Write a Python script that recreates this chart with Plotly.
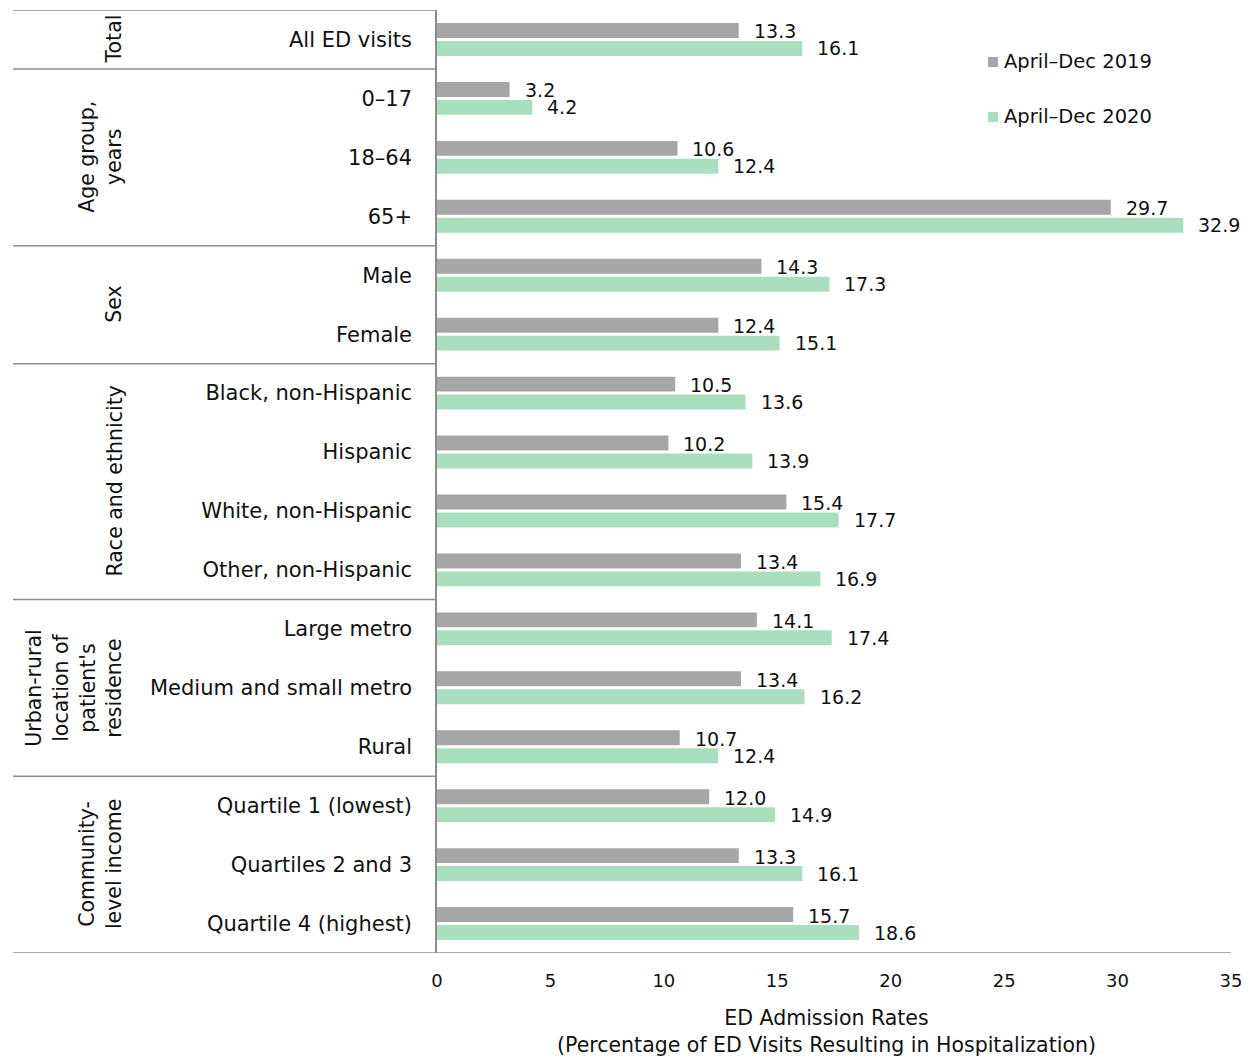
import plotly.graph_objects as go

# Categories (top to bottom) and admission rates per period
categories = [
    "All ED visits", "0–17", "18–64", "65+", "Male", "Female",
    "Black, non-Hispanic", "Hispanic", "White, non-Hispanic", "Other, non-Hispanic",
    "Large metro", "Medium and small metro", "Rural",
    "Quartile 1 (lowest)", "Quartiles 2 and 3", "Quartile 4 (highest)",
]
rates_2019 = [13.3, 3.2, 10.6, 29.7, 14.3, 12.4, 10.5, 10.2, 15.4, 13.4, 14.1, 13.4, 10.7, 12.0, 13.3, 15.7]
rates_2020 = [16.1, 4.2, 12.4, 32.9, 17.3, 15.1, 13.6, 13.9, 17.7, 16.9, 17.4, 16.2, 12.4, 14.9, 16.1, 18.6]
series_names = ["April–Dec 2019", "April–Dec 2020"]

# Grouping of the categories: (label, first index, last index)
groups = [
    ("Total", 0, 0),
    ("Age group,<br>years", 1, 3),
    ("Sex", 4, 5),
    ("Race and ethnicity", 6, 9),
    ("Urban-rural<br>location of<br>patient's<br>residence", 10, 12),
    ("Community-<br>level income", 13, 15),
]
x_ticks = [0, 5, 10, 15, 20, 25, 30, 35]
axis_title = "ED Admission Rates<br>(Percentage of ED Visits Resulting in Hospitalization)"

W, H = 1254, 1059
ML, MR, MT, MB = 437, 23, 10, 106
PW = W - ML - MR
FONT = "DejaVu Sans"
TXT = "#111111"
GRAY = "#A6A6A6"
GREEN = "#A9DFBF"
LINE = "#8C8C8C"


def px_to_paper_x(px):
    return (px - ML) / PW


idx = list(range(len(categories)))

fig = go.Figure()
fig.add_trace(go.Bar(y=idx, x=rates_2019, orientation="h", name=series_names[0],
                     marker=dict(color=GRAY, line=dict(width=0)), showlegend=False))
fig.add_trace(go.Bar(y=idx, x=rates_2020, orientation="h", name=series_names[1],
                     marker=dict(color=GREEN, line=dict(width=0)), showlegend=False))

annotations = []
# value labels to the right of each bar
for i in idx:
    annotations.append(dict(x=rates_2019[i], y=i, xref="x", yref="y", text=f"{rates_2019[i]:.1f}",
                            showarrow=False, xanchor="left", yanchor="middle", xshift=13, yshift=8,
                            font=dict(family=FONT, size=19, color=TXT)))
    annotations.append(dict(x=rates_2020[i], y=i, xref="x", yref="y", text=f"{rates_2020[i]:.1f}",
                            showarrow=False, xanchor="left", yanchor="middle", xshift=13, yshift=-9,
                            font=dict(family=FONT, size=19, color=TXT)))

shapes = []
# group labels and separators
left_edge = px_to_paper_x(13)
shapes.append(dict(type="line", xref="paper", yref="y", x0=left_edge, x1=0, y0=-0.5, y1=-0.5,
                   line=dict(color=LINE, width=1.5)))
for label, a, b in groups:
    annotations.append(dict(x=px_to_paper_x(128), y=(a + b) / 2, xref="paper", yref="y", text=label,
                            textangle=-90, showarrow=False, xanchor="right", yanchor="middle",
                            align="center", font=dict(family=FONT, size=20.5, color=TXT)))
    x1 = 1 if b == len(categories) - 1 else 0
    shapes.append(dict(type="line", xref="paper", yref="y", x0=left_edge, x1=x1, y0=b + 0.5, y1=b + 0.5,
                       line=dict(color=LINE, width=1.5)))

# legend
legend_y = [62, 117]
for name, color, ly in zip(series_names, [GRAY, GREEN], legend_y):
    py = 1 - (ly - MT) / (H - MT - MB)
    pad = 5 / (H - MT - MB)
    shapes.append(dict(type="rect", xref="paper", yref="paper",
                       x0=px_to_paper_x(988), x1=px_to_paper_x(998), y0=py - pad, y1=py + pad,
                       fillcolor=color, line=dict(width=0)))
    annotations.append(dict(x=px_to_paper_x(1002), y=py, xref="paper", yref="paper", text=name,
                            showarrow=False, xanchor="left", yanchor="middle",
                            font=dict(family=FONT, size=19.5, color=TXT)))

# axis title
annotations.append(dict(x=px_to_paper_x(826), y=1 - (1031 - MT) / (H - MT - MB), xref="paper", yref="paper",
                        text=axis_title, showarrow=False, xanchor="center", yanchor="middle",
                        align="center", font=dict(family=FONT, size=20.5, color=TXT)))

fig.update_layout(
    width=W, height=H,
    margin=dict(l=ML, r=MR, t=MT, b=MB),
    paper_bgcolor="white", plot_bgcolor="white",
    barmode="group", bargap=0.39, bargroupgap=0.17,
    showlegend=False,
    annotations=annotations, shapes=shapes,
    xaxis=dict(range=[0, 35], tickvals=x_ticks, showgrid=False, zeroline=False, showline=False,
               ticks="outside", ticklen=0, ticklabelstandoff=11,
               tickfont=dict(family=FONT, size=18, color=TXT)),
    yaxis=dict(range=[15.5, -0.5], tickvals=idx, ticktext=categories, showgrid=False, zeroline=False,
               showline=True, linecolor=LINE, linewidth=1.5, ticks="", ticklabelstandoff=19,
               tickfont=dict(family=FONT, size=21, color=TXT)),
)

fig.write_html("out.html")
